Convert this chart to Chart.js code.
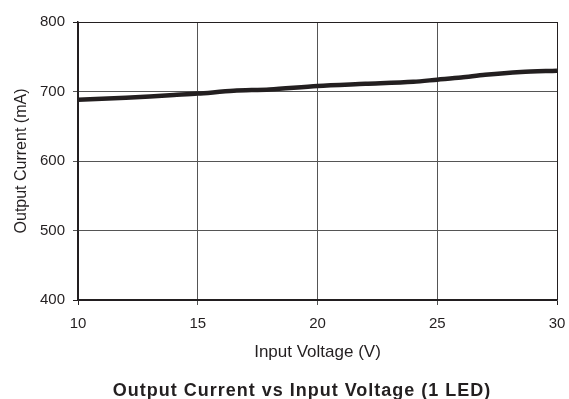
<!DOCTYPE html>
<html>
<head>
<meta charset="utf-8">
<script src="https://cdn.jsdelivr.net/npm/chart.js@4"></script>
<style>
  body { margin: 0; background: #fff; }
  #wrap { width: 569px; height: 399px; }
</style>
</head>
<body>
<div id="wrap"><canvas id="currentChart" width="569" height="399"></canvas></div>
<script>
// values
const inputVoltage = [10, 12, 14, 15, 16.5, 18, 20, 22, 24, 25, 26, 27, 28.5, 30];
const outputCurrent = [688, 691, 695, 697, 701, 703, 708, 711, 714, 717, 720, 724, 728, 730];
const xTicks = [10, 15, 20, 25, 30];
const yTicks = [400, 500, 600, 700, 800];
const chartTitle = "Output Current vs Input Voltage (1 LED)";

const points = inputVoltage.map(function (v, i) {
  return { x: v, y: outputCurrent[i] };
});

const ink = "#231f20";
const family = "'Liberation Sans', Arial, sans-serif";
const tickFont = { family: family, size: 15 };
const titleFont = { family: family, size: 17 };

// edges of the plot get a dark line, inner grid lines a grey one
function gridColor(c) {
  if (c.index === 0 || c.index === 4) return ink;
  return "#555";
}

// bold caption under the chart, a little letter-spaced like the original
const bottomTitle = {
  id: "bottomTitle",
  afterDraw: function (chart) {
    const c = chart.ctx;
    c.save();
    c.font = "bold 18px " + family;
    c.fillStyle = ink;
    c.textAlign = "center";
    c.textBaseline = "alphabetic";
    if ("letterSpacing" in c) c.letterSpacing = "1px";
    c.fillText(chartTitle, 302, 396);
    c.restore();
  },
};

const ctx = document.getElementById("currentChart").getContext("2d");
new Chart(ctx, {
  type: "line",
  data: {
    datasets: [
      {
        data: points,
        borderColor: ink,
        borderWidth: 4.5,
        pointRadius: 0,
        tension: 0.3,
        fill: false,
      },
    ],
  },
  options: {
    responsive: false,
    animation: false,
    layout: { padding: { left: 0, right: 12, top: 22, bottom: 36 } },
    scales: {
      x: {
        type: "linear",
        min: 10,
        max: 30,
        afterBuildTicks: function (scale) {
          scale.ticks = xTicks.map(function (v) { return { value: v }; });
        },
        afterFit: function (scale) {
          scale.height = 63;
          scale.paddingLeft = 0;
          scale.paddingRight = 0;
        },
        ticks: { color: ink, font: tickFont, padding: 10 },
        grid: { color: gridColor, lineWidth: 1, tickLength: 5 },
        border: { color: ink, width: 1.5 },
        title: {
          display: true,
          text: "Input Voltage (V)",
          color: ink,
          font: titleFont,
          padding: { top: 0, bottom: 0 },
        },
      },
      y: {
        min: 400,
        max: 800,
        afterBuildTicks: function (scale) {
          scale.ticks = yTicks.map(function (v) { return { value: v }; });
        },
        afterFit: function (scale) { scale.width = 78; },
        ticks: { color: ink, font: tickFont, padding: 8 },
        grid: { color: gridColor, lineWidth: 1, tickLength: 5 },
        border: { color: ink, width: 1.5 },
        title: {
          display: true,
          text: "Output Current (mA)",
          color: ink,
          font: { family: family, size: 16 },
          padding: { top: 12, bottom: 0 },
        },
      },
    },
    plugins: {
      legend: { display: false },
      tooltip: { enabled: false },
    },
  },
  plugins: [bottomTitle],
});
</script>
</body>
</html>
